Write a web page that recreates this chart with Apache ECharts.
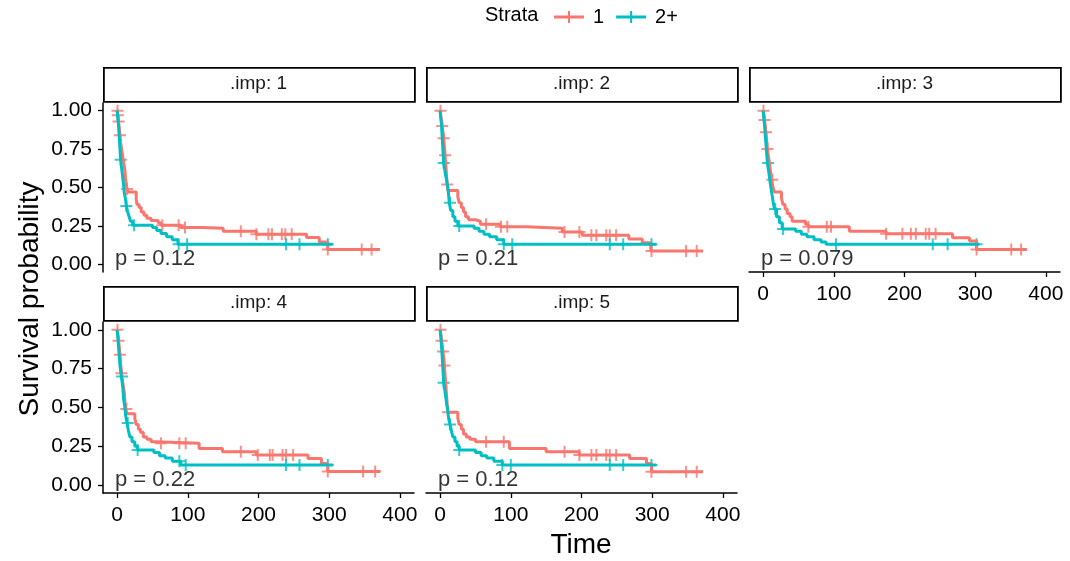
<!DOCTYPE html>
<html>
<head>
<meta charset="utf-8">
<title>Survival probability by strata</title>
<script src="https://cdn.jsdelivr.net/npm/echarts@6/dist/echarts.min.js"></script>
<style>
html, body { margin: 0; padding: 0; background: #fff; }
#main { width: 1070px; height: 561px; }
</style>
</head>
<body>
<div id="main"></div>
<script>
//面板标签与p值
var panelNames = ['.imp: 1', '.imp: 2', '.imp: 3', '.imp: 4', '.imp: 5'];
var pValues = ['p = 0.12', 'p = 0.21', 'p = 0.079', 'p = 0.22', 'p = 0.12'];
var strata = ['1', '2+'];
var xTicks = [0, 100, 200, 300, 400];
var yTicks = [0, 0.25, 0.5, 0.75, 1];

//KM 阶梯 [time, survival]
var imp1_s1 = [[0,1],[1,0.97],[2,0.93],[3,0.89],[4,0.84],[5,0.79],[7,0.73],[9,0.67],[11,0.61],[12,0.55],[14,0.49],[16,0.47],[27,0.43],[28,0.39],[31,0.37],[34,0.34],[38,0.32],[42,0.30],[48,0.285],[58,0.27],[62,0.255],[90,0.24],[120,0.235],[150,0.215],[197,0.195],[268,0.175],[286,0.145],[298,0.097],[372,0.097]];
var imp1_s2 = [[0,1],[1,0.95],[2,0.9],[3,0.83],[4,0.75],[5,0.68],[7,0.6],[9,0.52],[10,0.47],[12,0.42],[13,0.38],[15,0.34],[17,0.31],[19,0.28],[22,0.255],[50,0.24],[56,0.22],[62,0.2],[70,0.18],[78,0.16],[86,0.13],[305,0.13]];
var imp2_s1 = [[0,1],[1,0.96],[2,0.93],[3,0.9],[4,0.86],[5,0.82],[6,0.77],[7,0.71],[8,0.65],[9,0.58],[10,0.52],[11,0.48],[25,0.44],[27,0.40],[30,0.37],[33,0.34],[36,0.31],[40,0.29],[50,0.28],[57,0.26],[85,0.245],[122,0.235],[173,0.21],[201,0.19],[267,0.165],[286,0.14],[298,0.087],[372,0.087]];
var imp2_s2 = [[0,1],[1,0.95],[2,0.9],[3,0.82],[4,0.74],[5,0.66],[7,0.6],[9,0.55],[11,0.5],[12,0.45],[13,0.4],[15,0.35],[18,0.31],[21,0.28],[25,0.25],[48,0.235],[55,0.215],[62,0.195],[70,0.18],[80,0.16],[90,0.13],[306,0.13]];
var imp3_s1 = [[0,1],[1,0.97],[2,0.94],[3,0.9],[4,0.86],[5,0.81],[6,0.75],[8,0.69],[10,0.62],[12,0.55],[14,0.5],[16,0.47],[26,0.43],[28,0.39],[31,0.36],[34,0.33],[38,0.31],[41,0.28],[60,0.26],[64,0.245],[122,0.216],[174,0.199],[268,0.173],[292,0.151],[302,0.097],[373,0.097]];
var imp3_s2 = [[0,1],[1,0.95],[2,0.9],[3,0.84],[4,0.78],[5,0.72],[6,0.66],[8,0.6],[10,0.53],[12,0.47],[14,0.41],[16,0.36],[19,0.31],[23,0.27],[27,0.23],[46,0.215],[54,0.195],[62,0.18],[72,0.16],[82,0.145],[89,0.13],[306,0.13]];
var imp4_s1 = [[0,1],[1,0.97],[2,0.93],[3,0.89],[4,0.84],[5,0.78],[6,0.72],[8,0.66],[10,0.6],[11,0.54],[12,0.49],[14,0.46],[25,0.43],[27,0.39],[30,0.36],[33,0.34],[37,0.31],[42,0.295],[48,0.28],[55,0.27],[116,0.237],[149,0.215],[197,0.194],[270,0.172],[289,0.14],[298,0.088],[372,0.088]];
var imp4_s2 = [[0,1],[1,0.95],[2,0.89],[3,0.83],[4,0.77],[6,0.7],[8,0.63],[9,0.56],[11,0.5],[12,0.45],[14,0.4],[16,0.35],[18,0.31],[21,0.28],[25,0.25],[29,0.226],[52,0.21],[60,0.19],[68,0.175],[78,0.155],[90,0.13],[305,0.13]];
var imp5_s1 = [[0,1],[1,0.97],[2,0.93],[3,0.9],[4,0.86],[5,0.82],[6,0.77],[7,0.71],[8,0.65],[9,0.58],[10,0.52],[11,0.47],[25,0.43],[27,0.39],[30,0.36],[33,0.33],[37,0.31],[42,0.295],[50,0.28],[98,0.237],[150,0.215],[197,0.194],[268,0.172],[292,0.14],[299,0.086],[372,0.086]];
var imp5_s2 = [[0,1],[1,0.95],[2,0.89],[3,0.82],[4,0.74],[5,0.66],[7,0.6],[9,0.53],[11,0.47],[12,0.43],[14,0.39],[16,0.35],[18,0.31],[21,0.28],[24,0.25],[27,0.226],[50,0.21],[58,0.19],[66,0.175],[76,0.155],[88,0.13],[306,0.13]];

//删失时间
var imp1_c1 = [0.5,1,2,4,14,64,87,96,175,197,214,219,233,238,247,298,346,360];
var imp1_c2 = [5,13,24,87,99,239,258,298];
var imp2_c1 = [0.5,3,5,7,10,65,86,95,176,197,214,221,235,240,249,299,348,363];
var imp2_c2 = [5,14,27,90,102,240,259,299];
var imp3_c1 = [0.5,2,4,6,13,64,90,96,174,197,209,216,230,235,244,302,351,365];
var imp3_c2 = [7,17,28,103,240,261,302];
var imp4_c1 = [0.5,2,4,6,13,62,88,97,175,199,216,220,234,239,249,298,348,365];
var imp4_c2 = [7,15,29,88,97,239,258,298];
var imp5_c1 = [0.5,2,4,6,11,65,90,176,197,214,221,235,240,249,299,348,363];
var imp5_c2 = [5,14,27,88,100,240,259,299];

var steps = [[imp1_s1, imp1_s2], [imp2_s1, imp2_s2], [imp3_s1, imp3_s2], [imp4_s1, imp4_s2], [imp5_s1, imp5_s2]];
var censors = [[imp1_c1, imp1_c2], [imp2_c1, imp2_c2], [imp3_c1, imp3_c2], [imp4_c1, imp4_c2], [imp5_c1, imp5_c2]];

var colors = ['#F8766D', '#00BFC4'];
var fontFamily = '"Liberation Sans", Arial, sans-serif';
var crossIcon = 'path://M-1,-6 L1,-6 L1,6 L-1,6 Z M-6,-1 L6,-1 L6,1 L-6,1 Z';
var legendIcon = 'path://M-15,-1.5 L15,-1.5 L15,1.5 L-15,1.5 Z M-1,-6 L1,-6 L1,6 L-1,6 Z';

//面板位置
var grids = [
	{left: 103, top: 103, width: 311, height: 169},
	{left: 426, top: 103, width: 311, height: 169},
	{left: 749, top: 103, width: 311, height: 169},
	{left: 103, top: 322, width: 311, height: 171},
	{left: 426, top: 322, width: 311, height: 171}
];
var showX = [false, false, true, true, true];
var showY = [true, false, false, true, false];

function survAt(st, t) {
	var s = st[0][1];
	for (var i = 0; i < st.length; i++) {
		if (st[i][0] <= t) s = st[i][1];
	}
	return s;
}

var myChart = echarts.init(document.getElementById('main'));
var xAxes = [], yAxes = [], series = [], graphics = [];

for (var p = 0; p < 5; p++) {
	xAxes.push({
		type: 'value', gridIndex: p, min: -20, max: 420,
		axisLine: {show: showX[p], onZero: false, lineStyle: {color: '#000', width: 1.5}},
		axisTick: {show: showX[p], length: 5, lineStyle: {color: '#000', width: 1.3}, customValues: xTicks},
		axisLabel: {show: showX[p], customValues: xTicks, margin: 12, fontSize: 21, color: '#000', fontFamily: fontFamily},
		splitLine: {show: false}
	});
	yAxes.push({
		type: 'value', gridIndex: p, min: -0.05, max: 1.05,
		axisLine: {show: showY[p], onZero: false, lineStyle: {color: '#000', width: 1.5}},
		axisTick: {show: showY[p], length: 5, lineStyle: {color: '#000', width: 1.3}, customValues: yTicks},
		axisLabel: {show: showY[p], customValues: yTicks, margin: 11, fontSize: 21, color: '#000', fontFamily: fontFamily,
			formatter: function (v) { return v.toFixed(2); }},
		splitLine: {show: false}
	});
	for (var k = 0; k < 2; k++) {
		series.push({
			name: strata[k], type: 'line', step: 'end', xAxisIndex: p, yAxisIndex: p,
			showSymbol: false, symbol: 'none', silent: true,
			itemStyle: {color: colors[k]},
			lineStyle: {color: colors[k], width: 3},
			data: steps[p][k]
		});
	}
	for (var k = 0; k < 2; k++) {
		var pts = [];
		for (var i = 0; i < censors[p][k].length; i++) {
			var t = censors[p][k][i];
			pts.push([t, survAt(steps[p][k], t)]);
		}
		series.push({
			name: strata[k], type: 'scatter', xAxisIndex: p, yAxisIndex: p,
			symbol: crossIcon, symbolSize: 12, silent: true,
			itemStyle: {color: colors[k]},
			data: pts
		});
	}
	series.push({
		type: 'scatter', xAxisIndex: p, yAxisIndex: p, symbolSize: 0, silent: true,
		label: {show: true, position: 'right', distance: 0, formatter: pValues[p],
			fontSize: 22, color: '#000', fontFamily: fontFamily},
		data: [[-3, 0.035]]
	});
	//分面标题框
	graphics.push({
		type: 'rect', left: grids[p].left, top: grids[p].top - 36, silent: true,
		shape: {width: grids[p].width, height: 34},
		style: {fill: '#fff', stroke: '#000', lineWidth: 1.8}
	});
	graphics.push({
		type: 'text', silent: true,
		x: grids[p].left + grids[p].width / 2, y: grids[p].top - 19,
		style: {text: panelNames[p], fontSize: 19, fill: '#1a1a1a', fontFamily: fontFamily,
			align: 'center', verticalAlign: 'middle'}
	});
}

graphics.push({
	type: 'text', silent: true, x: 30, y: 299, rotation: Math.PI / 2,
	style: {text: 'Survival probability', fontSize: 28, fill: '#000', fontFamily: fontFamily,
		align: 'center', verticalAlign: 'middle'}
});
graphics.push({
	type: 'text', silent: true, x: 581, y: 545,
	style: {text: 'Time', fontSize: 28, fill: '#000', fontFamily: fontFamily,
		align: 'center', verticalAlign: 'middle'}
});

option = {
	animation: false,
	backgroundColor: '#fff',
	title: {
		text: 'Strata', left: 480, top: 0,
		textStyle: {fontSize: 20, fontWeight: 'normal', color: '#000', fontFamily: fontFamily}
	},
	legend: {
		left: 549, top: 2, itemWidth: 30, itemHeight: 12, itemGap: 12,
		textStyle: {fontSize: 20, color: '#000', fontFamily: fontFamily, padding: [0, 0, 0, 4]},
		data: [{name: '1', icon: legendIcon}, {name: '2+', icon: legendIcon}]
	},
	grid: grids,
	xAxis: xAxes,
	yAxis: yAxes,
	series: series,
	graphic: graphics
};
myChart.setOption(option, true);
</script>
</body>
</html>
